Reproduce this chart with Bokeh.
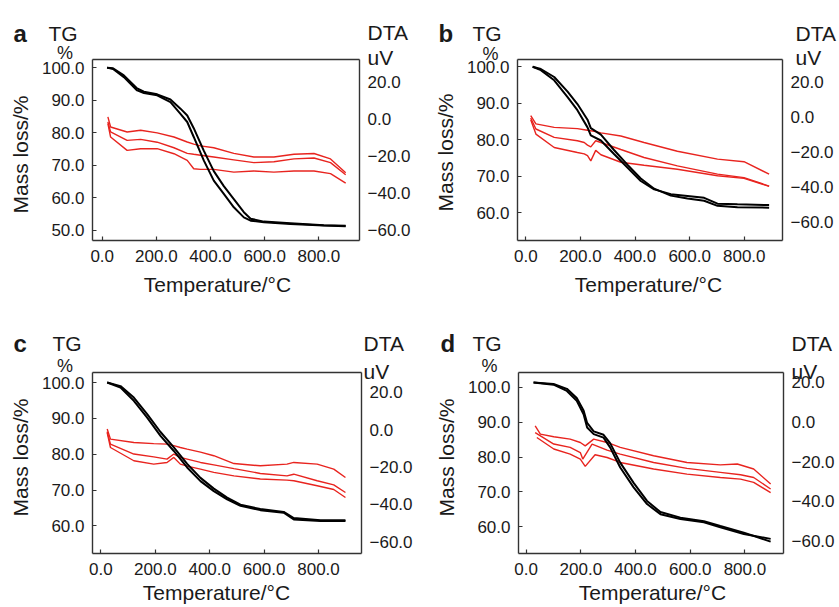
import math
from bokeh.plotting import figure
from bokeh.models import Range1d, LinearAxis, FixedTicker, Label
from bokeh.layouts import column, row
from bokeh.embed import file_html
from bokeh.resources import INLINE

# ---------------- data ----------------
x_ticks = [0, 200, 400, 600, 800]
x_tick_labels = ["0.0", "200.0", "400.0", "600.0", "800.0"]
tg_ticks_a = [50, 60, 70, 80, 90, 100]
tg_ticks_bcd = [60, 70, 80, 90, 100]
dta_ticks = [20, 0, -20, -40, -60]
dta_tick_labels = ["20.0", "0.0", "\u221220.0", "\u221240.0", "\u221260.0"]

# panel a
a_tg_t = [18, 40, 80, 129, 154, 203, 252, 289, 314, 338, 375, 412, 449, 486, 523, 548, 597, 695, 818, 899]
a_tg1 = [100.0, 99.6, 97.1, 93.0, 92.2, 91.5, 89.4, 85.8, 83.3, 78.7, 71.5, 65.3, 61.2, 57.1, 54.0, 53.0, 52.5, 52.0, 51.5, 51.3]
a_tg2 = [100.0, 99.8, 97.6, 93.6, 92.6, 91.8, 90.2, 87.4, 85.3, 81.4, 74.5, 68.2, 63.6, 59.6, 55.6, 53.6, 52.7, 52.2, 51.6, 51.4]
a_dta_t = [21, 31, 92, 142, 203, 265, 314, 338, 363, 412, 486, 560, 634, 708, 782, 843, 899]
a_dta1 = [1.1, -4.3, -7.0, -6.1, -7.5, -9.7, -12.4, -13.5, -14.5, -15.5, -18.5, -20.5, -20.5, -19.0, -18.6, -21.5, -29.0]
a_dta2 = [-1.6, -7.0, -11.5, -11.0, -12.5, -15.5, -18.5, -19.0, -19.5, -20.5, -22.0, -23.5, -23.0, -21.5, -21.0, -23.5, -30.0]
a_dta3 = [-2.5, -9.7, -16.9, -16.0, -16.0, -18.7, -22.3, -26.8, -27.1, -27.1, -28.6, -28.0, -28.6, -28.0, -28.0, -29.4, -34.5]

# panel b
b_tg_t = [25, 55, 104, 153, 189, 226, 238, 275, 323, 372, 421, 470, 531, 592, 653, 702, 775, 891]
b_tg1 = [100.0, 99.1, 96.3, 91.7, 88.1, 83.4, 81.2, 79.8, 76.1, 72.4, 68.7, 66.4, 65.1, 64.6, 64.1, 62.5, 62.3, 62.1]
b_tg2 = [100.0, 99.4, 97.2, 93.2, 89.8, 85.5, 83.2, 81.4, 77.2, 73.2, 69.4, 66.6, 64.7, 63.9, 63.3, 61.9, 61.5, 61.4]
b_dta_t = [18, 37, 104, 189, 214, 226, 238, 256, 275, 348, 433, 555, 702, 799, 891]
b_dta1 = [0.9, -3.9, -5.9, -6.6, -7.2, -7.5, -7.8, -8.3, -9.0, -10.8, -14.5, -19.5, -24.0, -25.5, -32.6]
b_dta2 = [-0.5, -6.8, -11.6, -13.5, -14.5, -16.0, -17.0, -13.5, -14.5, -18.5, -23.1, -27.9, -32.6, -34.6, -39.4]
b_dta3 = [-1.5, -9.7, -17.4, -20.2, -21.0, -22.0, -25.0, -19.0, -21.5, -25.8, -27.5, -29.8, -33.5, -35.0, -39.6]

# panel c
c_tg_t = [23, 72, 121, 170, 219, 268, 317, 366, 415, 464, 513, 586, 672, 709, 807, 899]
c_tg1 = [100.0, 98.6, 94.9, 90.2, 85.1, 80.9, 76.3, 72.5, 69.7, 67.4, 65.6, 64.4, 63.7, 61.8, 61.4, 61.4]
c_tg2 = [100.0, 99.0, 95.8, 91.2, 86.2, 81.9, 77.3, 73.4, 70.4, 67.9, 65.9, 64.7, 63.9, 62.2, 61.6, 61.6]
c_dta_t = [23, 35, 121, 194, 243, 268, 292, 317, 366, 415, 489, 586, 684, 709, 795, 856, 899]
c_dta1 = [0.4, -5.0, -6.8, -7.4, -7.7, -8.5, -9.5, -10.4, -12.0, -13.9, -18.1, -19.3, -18.4, -17.5, -18.4, -21.1, -25.6]
c_dta2 = [-1.0, -7.7, -13.0, -14.5, -15.7, -13.0, -14.8, -15.7, -17.5, -18.8, -20.8, -23.4, -24.7, -23.8, -27.3, -29.5, -33.6]
c_dta3 = [-1.5, -9.5, -16.6, -18.4, -17.5, -14.8, -18.4, -19.5, -21.1, -22.8, -24.7, -26.4, -27.0, -27.3, -30.0, -32.0, -36.3]

# panel d
d_tg_t = [27, 100, 149, 185, 210, 223, 247, 283, 307, 344, 393, 442, 491, 564, 650, 710, 796, 894]
d_tg1 = [101.4, 100.8, 99.0, 96.2, 92.3, 88.5, 86.6, 85.6, 82.8, 77.0, 71.3, 66.5, 63.6, 62.2, 61.3, 59.8, 57.9, 56.5]
d_tg2 = [101.4, 101.0, 99.6, 97.0, 93.4, 89.8, 87.4, 86.4, 84.0, 78.4, 72.6, 67.4, 64.2, 62.6, 61.6, 60.2, 58.3, 55.7]
d_dta1_t = [33, 52, 101, 161, 198, 216, 247, 296, 344, 466, 588, 710, 772, 832, 894]
d_dta1 = [-1.9, -6.1, -7.4, -8.6, -10.3, -12.0, -8.6, -10.3, -12.8, -17.0, -20.4, -21.6, -21.2, -23.7, -31.3]
d_dta2_t = [33, 101, 161, 198, 207, 241, 296, 344, 466, 588, 710, 784, 832, 894]
d_dta2 = [-5.3, -11.1, -12.8, -15.4, -18.7, -11.1, -14.2, -16.2, -20.4, -23.4, -25.4, -26.6, -28.0, -33.8]
d_dta3_t = [39, 101, 161, 198, 216, 252, 296, 344, 466, 588, 710, 784, 832, 894]
d_dta3 = [-7.8, -13.6, -16.2, -18.7, -22.4, -16.5, -17.9, -20.4, -23.7, -26.3, -28.0, -28.8, -30.5, -35.6]

# ---------------- style / layout ----------------
FONT = "Liberation Sans"
RED = "#e8241f"
TXT = "#1a1a1a"
BOX = "#333333"

# box = (left, right, top, bottom) of the plotting box in figure pixels
panels = [
    dict(letter="a", w=420, h=305, box=(92, 359, 59, 240),
         xr=(-35.8, 950), yl=(46.9, 102.5), yr=(-65.4, 32.0), tg_ticks=tg_ticks_a,
         tg=[(a_tg_t, a_tg1), (a_tg_t, a_tg2)],
         dta=[(a_dta_t, a_dta1), (a_dta_t, a_dta2), (a_dta_t, a_dta3)],
         pos=dict(letter=(-79, 207), tg=(-44, 207), pct=(-27.5, 188), dta=(275, 208), uv=(275, 183),
                  ylab=(-72, 86), xlab=(125, -44))),
    dict(letter="b", w=419, h=305, box=(97, 362, 59, 240),
         xr=(-30.4, 940), yl=(52.4, 102.0), yr=(-70.5, 32.9), tg_ticks=tg_ticks_bcd,
         tg=[(b_tg_t, b_tg1), (b_tg_t, b_tg2)],
         dta=[(b_dta_t, b_dta1), (b_dta_t, b_dta2), (b_dta_t, b_dta3)],
         pos=dict(letter=(-79, 207), tg=(-45, 207), pct=(-27, 187), dta=(278, 207), uv=(278, 183),
                  ylab=(-72, 88), xlab=(131, -44))),
    dict(letter="c", w=420, h=302, box=(92, 361, 67, 248),
         xr=(-31, 958), yl=(52.3, 102.8), yr=(-66.3, 30.7), tg_ticks=tg_ticks_bcd,
         tg=[(c_tg_t, c_tg1), (c_tg_t, c_tg2)],
         dta=[(c_dta_t, c_dta1), (c_dta_t, c_dta2), (c_dta_t, c_dta3)],
         pos=dict(letter=(-79, 210), tg=(-40, 210), pct=(-27.5, 188), dta=(271, 210), uv=(271, 182),
                  ylab=(-72, 96), xlab=(124, -39))),
    dict(letter="d", w=419, h=302, box=(98, 363, 67, 248),
         xr=(-28, 941), yl=(52.3, 104.3), yr=(-66.4, 25.05), tg_ticks=tg_ticks_bcd,
         tg=[(d_tg_t, d_tg1), (d_tg_t, d_tg2)],
         dta=[(d_dta1_t, d_dta1), (d_dta2_t, d_dta2), (d_dta3_t, d_dta3)],
         pos=dict(letter=(-78, 210), tg=(-46, 210), pct=(-29, 188), dta=(273, 210), uv=(273, 182),
                  ylab=(-72.5, 96), xlab=(134, -39))),
]


def extend(lo, hi, px_lo, px_hi, span):
    """Range covering the whole canvas, so that [lo, hi] fills the plotting box."""
    s = span / (hi - lo)
    return lo - px_lo / s, hi + px_hi / s


def style_axis(ax, ticks, labels, standoff, tick_in, bounds):
    ax.ticker = FixedTicker(ticks=ticks)
    ax.major_label_overrides = {t: l for t, l in zip(ticks, labels)}
    ax.bounds = bounds
    ax.axis_line_color = BOX
    ax.axis_line_width = 1.4
    ax.minor_tick_line_color = None
    ax.major_tick_in = tick_in
    ax.major_tick_out = 0
    ax.major_tick_line_color = BOX if tick_in else None
    ax.major_tick_line_width = 1.2
    ax.major_label_standoff = standoff
    ax.major_label_text_font = FONT
    ax.major_label_text_font_size = "17px"
    ax.major_label_text_color = TXT


def make_panel(s):
    w, h = s["w"], s["h"]
    L, R, T, B = s["box"]
    bw, bh = R - L, B - T
    x0, x1 = s["xr"]
    y0, y1 = s["yl"]
    d0, d1 = s["yr"]
    p = figure(width=w, height=h,
               x_range=Range1d(*extend(x0, x1, L, w - R, bw)),
               y_range=Range1d(*extend(y0, y1, h - B, T, bh)),
               output_backend="svg", toolbar_location=None,
               min_border_left=0, min_border_right=0, min_border_top=0, min_border_bottom=0)
    p.extra_y_ranges = {"dta": Range1d(*extend(d0, d1, h - B, T, bh))}
    p.grid.visible = False
    p.outline_line_color = None
    p.background_fill_color = "white"
    p.border_fill_color = "white"

    xa = p.xaxis[0]
    xa.fixed_location = y0
    style_axis(xa, x_ticks, x_tick_labels, 9, 4, (x0, x1))
    ya = p.yaxis[0]
    ya.fixed_location = x0
    style_axis(ya, s["tg_ticks"], ["%.1f" % v for v in s["tg_ticks"]], 8, 4, (y0, y1))
    rax = LinearAxis(y_range_name="dta", fixed_location=x1)
    style_axis(rax, dta_ticks, dta_tick_labels, 8, 0, (d0, d1))
    p.add_layout(rax, "right")
    tax = LinearAxis(fixed_location=y1)
    style_axis(tax, [], [], 0, 0, (x0, x1))
    p.add_layout(tax, "above")

    for t, v in s["dta"]:
        p.line(t, v, line_color=RED, line_width=1.4, y_range_name="dta")
    for t, v in s["tg"]:
        p.line(t, v, line_color="black", line_width=2.0)

    def add_label(key, text, size, align="left", baseline="alphabetic", bold=False, angle=0.0):
        fx, fy = s["pos"][key]
        p.add_layout(Label(x=L + fx, y=(h - B) + fy, x_units="screen", y_units="screen", text=text,
                           text_font=FONT, text_font_size=size, text_color=TXT,
                           text_font_style="bold" if bold else "normal",
                           text_align=align, text_baseline=baseline, angle=angle))

    add_label("letter", s["letter"], "24px", bold=True)
    add_label("tg", "TG", "21px")
    add_label("pct", "%", "18px", align="center")
    add_label("dta", "DTA", "21px")
    add_label("uv", "uV", "21px")
    add_label("ylab", "Mass loss/%", "21px", align="center", baseline="middle", angle=math.pi / 2)
    add_label("xlab", "Temperature/\u00b0C", "21px", align="center")
    return p


figs = [make_panel(s) for s in panels]
layout = column(row(figs[0], figs[1], spacing=0), row(figs[2], figs[3], spacing=0), spacing=0)

open("out.html", "w").write(file_html(layout, INLINE))
